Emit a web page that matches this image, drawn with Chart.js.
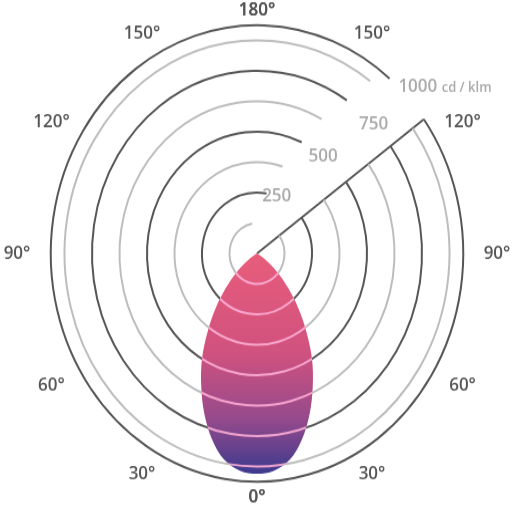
<!DOCTYPE html>
<html>
<head>
<meta charset="utf-8">
<script src="https://cdn.jsdelivr.net/npm/chart.js@4"></script>
<style>
  html, body { margin: 0; padding: 0; background: #fff; }
  #c { display: block; }
</style>
</head>
<body>
<canvas id="c" width="515" height="459"></canvas>
<script>
// angles every 5 deg, 0 = straight down
const angles = [];
for (let a = 0; a < 360; a += 5) angles.push(a);

// intensity cd/klm for 0..180 deg (symmetric)
const halfCurve = [905, 895, 860, 790, 700, 600, 500, 390, 290, 200, 125, 60, 20, 0,
  0, 0, 0, 0, 0, 0, 0, 0, 0, 0, 0, 0, 0, 0, 0, 0, 0, 0, 0, 0, 0, 0, 0];
const intensity = angles.map(a => halfCurve[a <= 180 ? a / 5 : (360 - a) / 5]);

const angleTicks = [0, 30, 60, 90, 120, 150, 180];
const ringValues = [125, 250, 375, 500, 625, 750, 875, 937.5];
const ringLabels = ['', '250', '500', '750'];
// ring arcs start at the cut line and stop before the label (degrees, canvas)
const ringEnds = [-100, -80, -72, -66, -62, -57, -54, -50];
const cutAngle = -36;

const deg = d => d * Math.PI / 180;

const gridPlugin = {
    id: 'photometric',
    afterDatasetsDraw(chart) {
        const ctx = chart.ctx;
        const r = chart.scales.r;
        const cx = r.xCenter, cy = r.yCenter;

        // pale rings on the lobe only
        ctx.save();
        ctx.globalCompositeOperation = 'source-atop';
        ctx.strokeStyle = 'rgba(255,175,215,0.9)';
        ctx.lineWidth = 2;
        ringValues.forEach((v, i) => {
            ctx.beginPath();
            ctx.arc(cx, cy, r.getDistanceFromCenterForValue(v), deg(cutAngle), deg(ringEnds[i] + 360));
            ctx.stroke();
        });
        ctx.restore();

        // grey rings behind the lobe
        ctx.save();
        ctx.globalCompositeOperation = 'destination-over';
        ringValues.forEach((v, i) => {
            const dark = i % 2 === 1 || i === ringValues.length - 1;
            ctx.strokeStyle = dark ? '#555' : '#bdbdbd';
            ctx.lineWidth = 2;
            ctx.beginPath();
            ctx.arc(cx, cy, r.getDistanceFromCenterForValue(v), deg(cutAngle), deg(ringEnds[i] + 360));
            ctx.stroke();
        });
        // cut line
        const outer = r.getDistanceFromCenterForValue(ringValues[ringValues.length - 1]);
        ctx.strokeStyle = '#555';
        ctx.beginPath();
        ctx.moveTo(cx, cy);
        ctx.lineTo(cx + outer * Math.cos(deg(cutAngle)), cy + outer * Math.sin(deg(cutAngle)));
        ctx.stroke();
        ctx.restore();

        // value labels
        ctx.save();
        ctx.fillStyle = '#aaa';
        ctx.textAlign = 'center';
        ctx.textBaseline = 'middle';
        ctx.font = '600 17px "Open Sans", sans-serif';
        const labelAngles = [0, -69, -53, -45];
        ringLabels.forEach((t, i) => {
            if (!t) return;
            const d = r.getDistanceFromCenterForValue(i * 250);
            ctx.fillText(t, cx + d * Math.cos(deg(labelAngles[i])), cy + d * Math.sin(deg(labelAngles[i])));
        });
        const d1 = r.getDistanceFromCenterForValue(1000) + 22;
        const lx = cx + d1 * Math.cos(deg(-38.5)) - 48, ly = cy + d1 * Math.sin(deg(-38.5));
        ctx.textAlign = 'left';
        ctx.fillText('1000', lx, ly);
        const w = ctx.measureText('1000 ').width;
        ctx.font = '600 13px "Open Sans", sans-serif';
        ctx.fillText('cd / klm', lx + w, ly + 1);

        // angle labels
        ctx.fillStyle = '#555';
        ctx.font = '600 17px "Open Sans", sans-serif';
        ctx.textAlign = 'center';
        const base = r.getDistanceFromCenterForValue(1000);
        angleTicks.forEach(a => {
            const dist = base + 20 * Math.abs(Math.sin(deg(a)));
            [a / 5, (360 - a) / 5 % 72].forEach(idx => {
                const p = r.getPointPosition(idx, dist);
                ctx.fillText(a + '°', p.x, p.y);
            });
        });
        ctx.restore();
    }
};

const chart = new Chart(document.getElementById('c'), {
    type: 'radar',
    data: {
        labels: angles.map(a => a + '°'),
        datasets: [{
            data: intensity,
            fill: true,
            borderWidth: 0,
            pointRadius: 0,
            tension: 0.35,
            backgroundColor(context) {
                const chart = context.chart;
                const r = chart.scales.r;
                if (!r || !chart.chartArea) return '#d85a80';
                const g = chart.ctx.createLinearGradient(0, r.yCenter, 0, r.yCenter + r.getDistanceFromCenterForValue(905));
                g.addColorStop(0, '#e85d7b');
                g.addColorStop(0.45, '#d0527f');
                g.addColorStop(0.75, '#964a8c');
                g.addColorStop(1, '#3c3a8e');
                return g;
            }
        }]
    },
    options: {
        responsive: false,
        animation: false,
        layout: { padding: { left: 37, right: 38, top: 9, bottom: 10 } },
        plugins: { legend: { display: false }, tooltip: { enabled: false } },
        scales: {
            r: {
                min: 0,
                max: 1000,
                startAngle: 180,
                ticks: { display: false },
                grid: { display: false },
                angleLines: { display: false },
                pointLabels: { display: false }
            }
        }
    },
    plugins: [gridPlugin]
});

// the reference is a little taller than wide: stretch the canvas vertically
chart.canvas.style.width = '515px';
chart.canvas.style.height = '508px';
</script>
</body>
</html>
